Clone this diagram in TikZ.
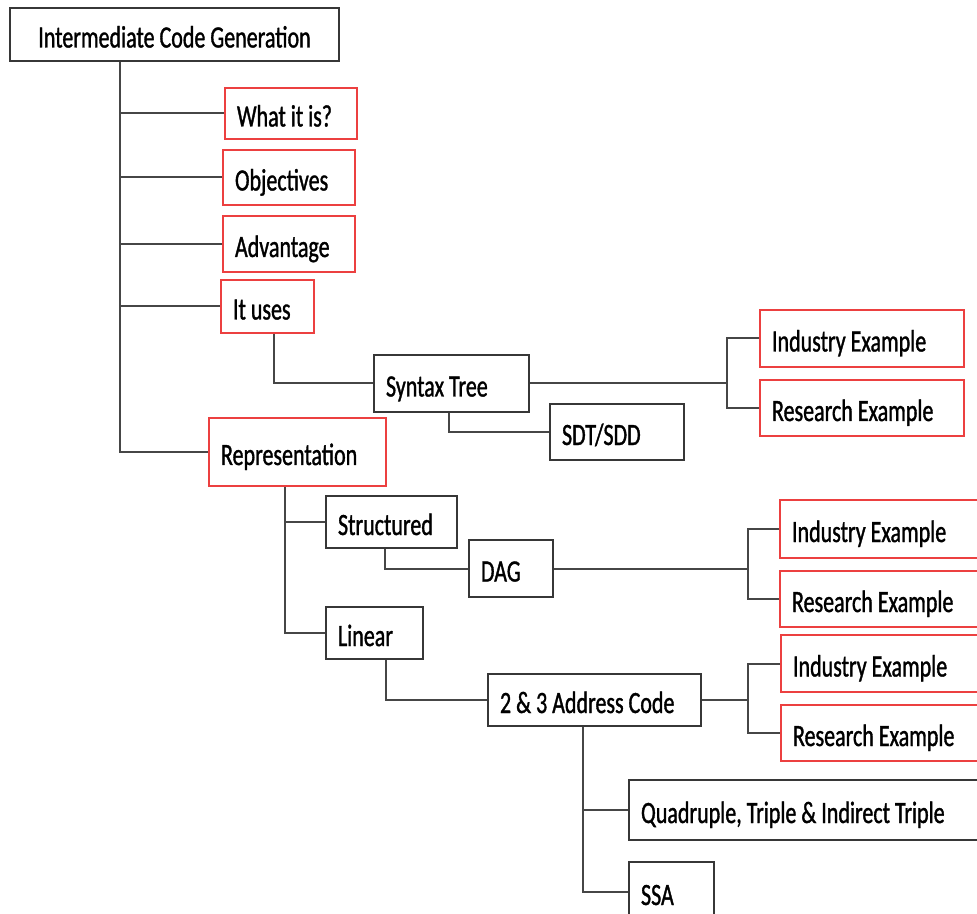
\documentclass[tikz,border=0pt]{standalone}
\usepackage{fontspec}
\setmainfont{Carlito}[FakeStretch=0.71,FakeBold=1.1]
\usetikzlibrary{calc}
\definecolor{myred}{RGB}{236,64,64}
\definecolor{boxgray}{RGB}{55,55,55}
\definecolor{linegray}{RGB}{70,70,70}

\begin{document}
\begin{tikzpicture}[x=0.5pt,y=-0.5pt,
		box/.style n args={2}{draw=boxgray,line width=1pt,anchor=north west,
			minimum width=#1*0.5pt,minimum height=#2*0.5pt,
			text width=#1*0.5pt-24*0.5pt,inner xsep=6pt,inner ysep=0pt,
			text height=1.3em,text depth=0pt,font=\fontsize{15.5}{18}\selectfont,
			execute at begin node={\spaceskip=0.16em\relax}},
		redbox/.style n args={2}{box={#1}{#2},draw=myred},
		link/.style={draw=linegray,line width=1pt}]
			\useasboundingbox (0,0) rectangle (977,913);
			\clip (0,0) rectangle (977,913);
			% root and its first level
			\node[box={329}{53}] (icg) at (9,7) {\centering Intermediate Code Generation\par};
			\node[redbox={132}{51}] (what) at (224,87) {What it is?};
			\node[redbox={132}{55}] (obj) at (222,149) {Objectives};
			\node[redbox={132}{56}] (adv) at (222,215) {Advantage};
			\node[redbox={93}{53}] (uses) at (220,279) {It uses};
			\node[redbox={177}{68}] (rep) at (208,417) {Representation};
			% syntax tree branch
			\node[box={155}{57}] (syn) at (373,354) {Syntax Tree};
			\node[box={134}{56}] (sdt) at (549,403) {SDT/SDD};
			\node[redbox={204}{57}] (ind1) at (759,309) {Industry Example};
			\node[redbox={204}{56}] (res1) at (759,379) {Research Example};
			% representation branch
			\node[box={131}{52}] (str) at (325,495) {Structured};
			\node[box={84}{57}] (dag) at (468,539) {DAG};
			\node[box={97}{52}] (lin) at (325,606) {Linear};
			\node[redbox={220}{58}] (ind2) at (779,499) {Industry Example};
			\node[redbox={220}{56}] (res2) at (779,570) {Research Example};
			\node[box={213}{52}] (addr) at (487,673) {2 \& 3 Address Code};
			\node[redbox={220}{57}] (ind3) at (780,634) {Industry Example};
			\node[redbox={220}{56}] (res3) at (780,704) {Research Example};
			\node[box={370}{60}] (quad) at (628,779) {Quadruple, Triple \& Indirect Triple};
			\node[box={85}{60}] (ssa) at (628,861) {SSA};
			% connectors
			\coordinate (trunk) at ($(icg.south west)+(111,0)$);
			\draw[link] (trunk) |- (rep.west);
			\foreach \n in {what,obj,adv,uses}
			{
				\draw[link] (trunk |- \n.west) -- (\n.west);
			}
			\draw[link] ($(uses.south)+(6,0)$) |- (syn.west);
			\draw[link] ($(syn.south)+(-3,0)$) |- (sdt.west);
			\coordinate (rtrunk) at ($(rep.south)+(-13,0)$);
			\draw[link] (rtrunk) |- (lin.west);
			\draw[link] (rtrunk |- str.west) -- (str.west);
			\draw[link] ($(str.south)+(-7,0)$) |- (dag.west);
			\draw[link] ($(lin.south)+(11,0)$) |- (addr.west);
			\coordinate (atrunk) at ($(addr.south)+(-12,0)$);
			\draw[link] (atrunk) |- (ssa.west);
			\draw[link] (atrunk |- quad.west) -- (quad.west);
			\foreach \p/\i/\r/\dx in {syn/ind1/res1/197,dag/ind2/res2/194,addr/ind3/res3/46}
			{
				\coordinate (fork) at ($(\p.east)+(\dx,0)$);
				\draw[link] (\p.east) -- (fork);
				\draw[link] (\i.west) -| (fork) |- (\r.west);
			}
		\end{tikzpicture}
\end{document}
